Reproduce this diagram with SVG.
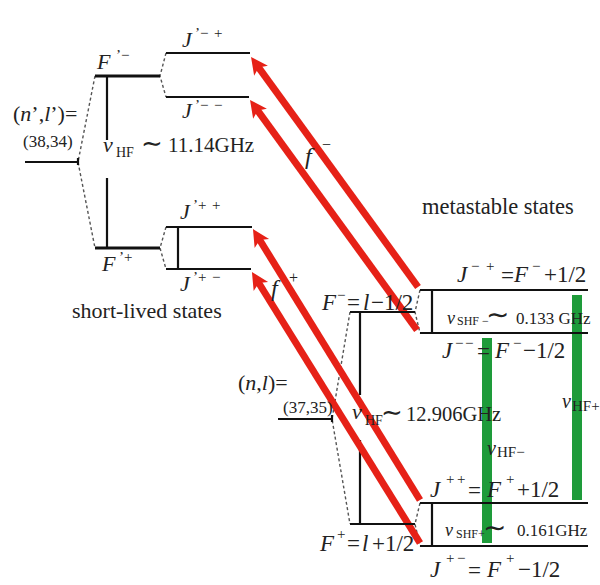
<svg xmlns="http://www.w3.org/2000/svg" width="600" height="585" viewBox="0 0 600 585" font-family="'Liberation Serif', Tinos, 'Times New Roman', 'DejaVu Serif', serif">
<style>
.ln{stroke:#111;stroke-width:2.2;fill:none}
.lb{stroke:#111;stroke-width:3;fill:none}
.dash{stroke:#555;stroke-width:1.4;stroke-dasharray:3 2.5;fill:none}
.red{stroke:#e62117;stroke-width:7;fill:none;marker-end:url(#ah)}
.grn{fill:#1e9b3a}
text{font-family:'Liberation Serif', Tinos, 'Times New Roman', 'DejaVu Serif', serif;fill:#222}
.i{font-style:italic}
.sp{font-size:15px}
.tl{font-family:'DejaVu Sans', sans-serif}
</style>
<defs>
<marker id="ah" markerUnits="userSpaceOnUse" markerWidth="30" markerHeight="30" viewBox="0 0 30 30" refX="15" refY="15" orient="auto" overflow="visible">
<path d="M25,15 L8,6.5 L12,15 L8,23.5 Z" fill="#e62117"/>
</marker>
</defs>
<rect width="600" height="585" fill="#fff"/>

<g id="connectors">
<path class="dash" d="M95,76 L78,162 L95,248"/>
<path class="dash" d="M166,53 L160,76 L166,97"/>
<path class="dash" d="M166,227 L160,248 L166,269"/>
<path class="dash" d="M350,312 L332,419 L350,524"/>
<path class="dash" d="M420,290 L415,312 L420,333"/>
<path class="dash" d="M420,503 L415,524 L420,546"/>
<path class="ln" d="M107,76 V140 M107,178 V248"/>
<path class="ln" d="M178,227 V269"/>
<path class="ln" d="M360,312 V395 M360,440 V524"/>
<path class="ln" d="M432,290 V333 M432,503 V546"/>
<rect class="grn" x="572" y="295" width="10" height="205"/>
<rect class="grn" x="482" y="338" width="10" height="205"/>
<path class="red" d="M418,287 L256.9,65.1"/>
<path class="red" d="M417,330 L255.9,108.1"/>
<path class="red" d="M420,500 L258.2,237.5"/>
<path class="red" d="M420,543 L257.2,280.5"/>
</g>

<g id="n-prime">
<path class="ln" d="M25,162 H78 M78,158 V165"/>
<text font-size="22"><tspan x="13" y="121">(</tspan><tspan class="i">n</tspan><tspan>’,</tspan><tspan class="i">l</tspan><tspan>’)=</tspan></text>
<text x="23" y="147" font-size="17">(38,34)</text>
</g>

<g id="F-prime-minus">
<path class="lb" d="M95,76 H160"/>
<text font-size="22"><tspan class="i" x="97" y="69">F</tspan><tspan class="sp" x="116" y="60">’−</tspan></text>
</g>
<g id="F-prime-plus">
<path class="lb" d="M95,248 H160"/>
<text font-size="22"><tspan class="i" x="102" y="271">F</tspan><tspan class="sp" x="119" y="262">’+</tspan></text>
</g>

<g id="nu-HF-prime">
<text font-size="22"><tspan class="i" x="103" y="152">ν</tspan><tspan font-size="14" x="116" y="157">HF</tspan></text>
<text class="tl" x="141" y="152" font-size="26">∼</text>
<text x="168" y="152" font-size="21">11.14GHz</text>
</g>

<g id="J-prime-mp">
<path class="ln" d="M166,53 H250"/>
<text font-size="22"><tspan class="i" x="182" y="47">J</tspan><tspan class="sp" x="195" y="38">’−</tspan><tspan class="sp" x="214" y="38">+</tspan></text>
</g>
<g id="J-prime-mm">
<path class="ln" d="M166,97 H249"/>
<text font-size="22"><tspan class="i" x="182" y="118">J</tspan><tspan class="sp" x="195" y="110">’−</tspan><tspan class="sp" x="214" y="110">−</tspan></text>
</g>
<g id="J-prime-pp">
<path class="ln" d="M166,227 H252"/>
<text font-size="22"><tspan class="i" x="180" y="219">J</tspan><tspan class="sp" x="193" y="210">’+</tspan><tspan class="sp" x="212" y="210">+</tspan></text>
</g>
<g id="J-prime-pm">
<path class="ln" d="M166,269 H251"/>
<text font-size="22"><tspan class="i" x="180" y="291">J</tspan><tspan class="sp" x="193" y="282">’+</tspan><tspan class="sp" x="212" y="282">−</tspan></text>
</g>

<text x="72" y="318" font-size="22">short-lived states</text>
<text x="422" y="214" font-size="22.5">metastable states</text>

<g id="f-labels">
<text font-size="24"><tspan class="i" x="305" y="164">f</tspan><tspan font-size="16" x="322" y="150">−</tspan></text>
<text font-size="24"><tspan class="i" x="271" y="296">f</tspan><tspan font-size="16" x="289" y="283">+</tspan></text>
</g>

<g id="n-l">
<path class="ln" d="M278,419 H332 M332,415 V422"/>
<text font-size="22"><tspan x="238" y="390">(</tspan><tspan class="i">n</tspan><tspan>,</tspan><tspan class="i">l</tspan><tspan>)=</tspan></text>
<text x="283" y="413" font-size="17">(37,35)</text>
</g>

<g id="F-minus">
<path class="ln" d="M350,312 H415"/>
<text font-size="23"><tspan class="i" x="322" y="310">F</tspan><tspan class="sp" x="337" y="300">−</tspan><tspan x="347" y="310">=</tspan><tspan class="i" x="363" y="310">l</tspan><tspan x="371" y="310">−1/2</tspan></text>
</g>
<g id="F-plus">
<path class="ln" d="M350,524 H415"/>
<text font-size="23"><tspan class="i" x="320" y="551">F</tspan><tspan class="sp" x="337" y="539">+</tspan><tspan x="347" y="551">=</tspan><tspan class="i" x="362" y="551">l</tspan><tspan x="372" y="551">+1/2</tspan></text>
</g>

<g id="nu-HF">
<text font-size="22"><tspan class="i" x="352" y="419">ν</tspan><tspan font-size="14" x="365" y="425">HF</tspan></text>
<text class="tl" x="381" y="421" font-size="26">∼</text>
<text x="406" y="421" font-size="20.5">12.906GHz</text>
</g>

<g id="J-mp">
<path class="ln" d="M420,290 H588"/>
<text font-size="23"><tspan class="i" x="457" y="282">J</tspan><tspan class="sp" x="471" y="271">−</tspan><tspan class="sp" x="486" y="271">+</tspan><tspan x="501" y="283">=</tspan><tspan class="i" x="514" y="282">F</tspan><tspan class="sp" x="532" y="271">−</tspan><tspan x="544" y="282">+1/2</tspan></text>
</g>
<g id="J-mm">
<path class="ln" d="M420,333 H588"/>
<text font-size="23"><tspan class="i" x="442" y="358">J</tspan><tspan class="sp" x="455" y="348">−</tspan><tspan class="sp" x="465" y="348">−</tspan><tspan x="477" y="359">=</tspan><tspan class="i" x="495" y="358">F</tspan><tspan class="sp" x="513" y="348">−</tspan><tspan x="523" y="358">−1/2</tspan></text>
</g>
<g id="nu-SHF-minus">
<text font-size="18"><tspan class="i" x="447" y="324">ν</tspan><tspan font-size="12" x="457" y="325">SHF −</tspan></text>
<text class="tl" x="486" y="324" font-size="28">∼</text>
<text x="516" y="324" font-size="17">0.133 GHz</text>
</g>

<g id="J-pp">
<path class="ln" d="M420,503 H588"/>
<text font-size="23"><tspan class="i" x="430" y="497">J</tspan><tspan class="sp" x="446" y="484">+</tspan><tspan class="sp" x="457" y="484">+</tspan><tspan x="468" y="498">=</tspan><tspan class="i" x="487" y="497">F</tspan><tspan class="sp" x="506" y="484">+</tspan><tspan x="517" y="497">+1/2</tspan></text>
</g>
<g id="J-pm">
<path class="ln" d="M420,546 H588"/>
<text font-size="23"><tspan class="i" x="430" y="577">J</tspan><tspan class="sp" x="446" y="563">+</tspan><tspan class="sp" x="457" y="563">−</tspan><tspan x="468" y="578">=</tspan><tspan class="i" x="487" y="577">F</tspan><tspan class="sp" x="506" y="563">+</tspan><tspan x="518" y="577">−1/2</tspan></text>
</g>
<g id="nu-SHF-plus">
<text font-size="18"><tspan class="i" x="445" y="536">ν</tspan><tspan font-size="12" x="456" y="538">SHF+</tspan></text>
<text class="tl" x="483" y="537" font-size="28">∼</text>
<text x="517" y="536" font-size="17">0.161GHz</text>
</g>

<g id="nu-HF-plus">
<text font-size="20"><tspan class="i" x="562" y="408">ν</tspan><tspan font-size="15" x="572" y="411">HF+</tspan></text>
</g>
<g id="nu-HF-minus">
<text font-size="20"><tspan class="i" x="487" y="455">ν</tspan><tspan font-size="15" x="497" y="457">HF−</tspan></text>
</g>
</svg>
